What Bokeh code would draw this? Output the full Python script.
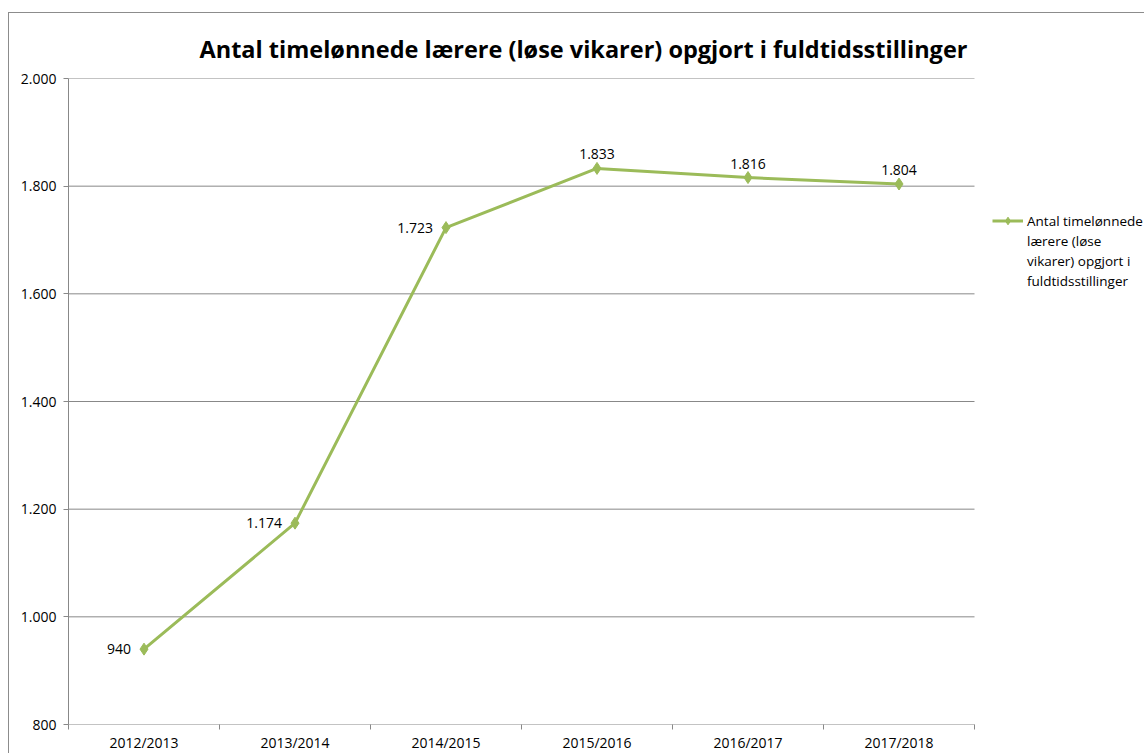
from bokeh.plotting import figure
from bokeh.models import FixedTicker, Legend, LegendItem, Range1d, ColumnDataSource, Title
from bokeh.core.properties import value
from bokeh.embed import file_html
from bokeh.resources import INLINE

categories = ["2012/2013", "2013/2014", "2014/2015", "2015/2016", "2016/2017", "2017/2018"]
values = [940, 1174, 1723, 1833, 1816, 1804]
y_ticks = [800, 1000, 1200, 1400, 1600, 1800, 2000]
legend_lines = ["Antal timelønnede", "lærere (løse", "vikarer) opgjort i", "fuldtidsstillinger"]
title_text = "Antal timelønnede lærere (løse vikarer) opgjort i fuldtidsstillinger"

def fmt(v):
    return f"{v:,}".replace(",", ".")

FONT = "Open Sans"
GREEN = "#9BBB59"
GRAY = "#888888"

# layout (pixels)
W, H = 1136, 741
ML, MR, MT, MB = 59, 2, 65, 30
PLOT_W = 906  # width of the category area
frame_w = W - ML - MR
n = len(categories)
x_end = -0.5 + frame_w * n / PLOT_W

xs = list(range(n))
src = ColumnDataSource(dict(x=xs, y=values))

p = figure(width=W, height=H, output_backend="svg", toolbar_location=None,
           x_range=Range1d(-0.5, x_end), y_range=Range1d(y_ticks[0], y_ticks[-1]),
           min_border_left=ML, min_border_right=MR, min_border_top=MT, min_border_bottom=MB)
p.styles = {"border-left": "1px solid #8c8c8c", "border-top": "1px solid #8c8c8c",
            "margin-left": "8px", "margin-top": "12px"}
p.outline_line_color = None

t = Title(text=title_text, align="left", offset=131, text_font=FONT, text_font_size="23.5px",
          text_font_style="bold", text_color="#000000", standoff=28)
p.add_layout(t, "above")

# gridlines over the category area only
p.xgrid.grid_line_color = None
p.ygrid.grid_line_color = None
p.segment(x0=-0.5, x1=n - 0.5, y0=y_ticks, y1=y_ticks, line_color=GRAY, line_width=1)

# axes
p.xaxis.ticker = FixedTicker(ticks=xs, minor_ticks=[i - 0.5 for i in range(n + 1)])
p.xaxis.major_label_overrides = {i: c for i, c in enumerate(categories)}
p.xaxis.major_tick_out = 0
p.xaxis.major_tick_in = 0
p.xaxis.minor_tick_out = 5
p.xaxis.minor_tick_in = 0
p.xaxis.minor_tick_line_color = GRAY
p.xaxis.axis_line_color = None
p.xaxis.major_label_standoff = 3
p.yaxis.ticker = FixedTicker(ticks=y_ticks, minor_ticks=[])
p.yaxis.major_label_overrides = {v: fmt(v) for v in y_ticks}
p.yaxis.major_tick_out = 5
p.yaxis.major_tick_in = 0
p.yaxis.major_tick_line_color = GRAY
p.yaxis.axis_line_color = GRAY
p.yaxis.major_label_standoff = 7
for ax in (p.xaxis, p.yaxis):
    ax.major_label_text_font = FONT
    ax.major_label_text_font_size = "14px"
    ax.major_label_text_color = "#000000"

ln = p.line("x", "y", source=src, line_color=GREEN, line_width=3)
mk = p.scatter("x", "y", source=src, marker="diamond", size=12, fill_color=GREEN, line_color=GREEN)

# data labels
left_src = ColumnDataSource(dict(x=xs[:3], y=values[:3], lbl=[fmt(v) for v in values[:3]]))
top_src = ColumnDataSource(dict(x=xs[3:], y=values[3:], lbl=[fmt(v) for v in values[3:]]))
p.text("x", "y", text="lbl", source=left_src, text_align="right", text_baseline="middle",
       x_offset=-13, y_offset=0, text_font=value(FONT), text_font_size="14px", text_color="#000000")
p.text("x", "y", text="lbl", source=top_src, text_align="center", text_baseline="bottom",
       x_offset=0, y_offset=-9, text_font=value(FONT), text_font_size="14px", text_color="#000000")

# legend: one item with the series glyph, continuation lines with an invisible glyph
blank = p.line(x=[], y=[], line_alpha=0)
items = [LegendItem(label=legend_lines[0], renderers=[ln, mk])]
items += [LegendItem(label=s, renderers=[blank]) for s in legend_lines[1:]]
legend = Legend(items=items, location=(924, 434), border_line_color=None, background_fill_alpha=0,
                label_text_font=FONT, label_text_font_size="13.5px", label_text_color="#000000",
                glyph_width=31, glyph_height=19, label_height=19, label_standoff=4,
                padding=0, margin=0, spacing=1)
p.add_layout(legend, "center")

open("out.html", "w").write(file_html(p, INLINE))
